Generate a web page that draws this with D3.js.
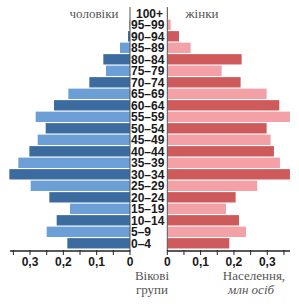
<!DOCTYPE html>
<html><head><meta charset="utf-8">
<script src="https://cdn.jsdelivr.net/npm/d3@7"></script>
<style>body{margin:0;background:#fff;}svg{display:block;}</style>
</head><body>
<script>
const ageGroups = ["0–4","5–9","10–14","15–19","20–24","25–29","30–34","35–39","40–44","45–49","50–54","55–59","60–64","65–69","70–74","75–79","80–84","85–89","90–94","95–99","100+"];
const male   = [0.188,0.250,0.220,0.180,0.242,0.298,0.362,0.335,0.302,0.277,0.253,0.283,0.228,0.185,0.122,0.072,0.080,0.030,0.006,0.002,0.000];
const female = [0.186,0.236,0.215,0.176,0.205,0.270,0.368,0.338,0.320,0.310,0.298,0.368,0.336,0.298,0.220,0.163,0.223,0.070,0.035,0.010,0.002];
const tickValues = [0,0.1,0.2,0.3];
const tickLabels = ["0","0,1","0,2","0,3"];
const minorTicks = [0,0.05,0.1,0.15,0.2,0.25,0.3,0.35];

const W=299,H=304;
const svg=d3.select("body").append("svg").attr("width",W).attr("height",H);
const maleZero=130, femZero=167.3, unit=333.3;
const xm=d3.scaleLinear().domain([0,0.35]).range([maleZero,maleZero-0.35*unit]);
const xf=d3.scaleLinear().domain([0,0.35]).range([femZero,femZero+0.35*unit]);
const y=d3.scaleBand().domain(ageGroups.slice().reverse()).range([7.55,249.05]).paddingInner(0.1).paddingOuter(0.05);
const cols={mDark:"#3c6c9f",mLight:"#6b9fd6",fDark:"#cf5a5b",fLight:"#f3a0a6"};

svg.append("g").selectAll("rect").data(ageGroups).join("rect")
 .attr("x",(d,i)=>xm(male[i])).attr("width",(d,i)=>xm(0)-xm(male[i]))
 .attr("y",d=>y(d)).attr("height",y.bandwidth())
 .attr("fill",(d,i)=>i%2===0?cols.mDark:cols.mLight);
svg.append("g").selectAll("rect").data(ageGroups).join("rect")
 .attr("x",xf(0)).attr("width",(d,i)=>xf(female[i])-xf(0))
 .attr("y",d=>y(d)).attr("height",y.bandwidth())
 .attr("fill",(d,i)=>i%2===0?cols.fDark:cols.fLight);

svg.append("line").attr("x1",maleZero).attr("x2",maleZero).attr("y1",7).attr("y2",251).attr("stroke","#555").attr("stroke-width",1);
svg.append("line").attr("x1",femZero).attr("x2",femZero).attr("y1",7).attr("y2",251).attr("stroke","#555").attr("stroke-width",1);

svg.append("g").selectAll("text").data(ageGroups).join("text")
 .attr("x",d=>d==="100+"?136:131).attr("y",d=>y(d)+y.bandwidth()/2).attr("dy","0.36em")
 .attr("font-family","Liberation Sans, Arial, sans-serif").attr("font-size",12).attr("font-weight","bold")
 .attr("fill","#1a1a1a").text(d=>d);

const axisY=251;
function drawAxis(scale,x1,x2){
  const g=svg.append("g");
  g.append("line").attr("x1",x1).attr("x2",x2).attr("y1",axisY).attr("y2",axisY).attr("stroke","#222").attr("stroke-width",1.6);
  g.selectAll("line.t").data(minorTicks).join("line").attr("class","t")
   .attr("x1",d=>scale(d)).attr("x2",d=>scale(d)).attr("y1",axisY-1).attr("y2",axisY+4).attr("stroke","#222").attr("stroke-width",1);
  g.selectAll("text").data(tickValues).join("text")
   .attr("x",d=>scale(d)).attr("y",266).attr("text-anchor","middle")
   .attr("font-family","Liberation Sans, Arial, sans-serif").attr("font-size",12).attr("font-weight","bold").attr("fill","#1a1a1a")
   .text((d,i)=>tickLabels[i]);
}
drawAxis(xm,10,maleZero);
drawAxis(xf,femZero,290);

const serif="Liberation Serif, Times New Roman, serif";
svg.append("text").attr("x",94).attr("y",18).attr("text-anchor","middle").attr("font-family",serif).attr("font-size",13).attr("fill","#555").text("чоловіки");
svg.append("text").attr("x",202).attr("y",18).attr("text-anchor","middle").attr("font-family",serif).attr("font-size",13).attr("fill","#555").text("жінки");
svg.append("text").attr("x",152).attr("y",280).attr("text-anchor","middle").attr("font-family",serif).attr("font-size",13).attr("fill","#555").text("Вікові");
svg.append("text").attr("x",152).attr("y",294).attr("text-anchor","middle").attr("font-family",serif).attr("font-size",13).attr("fill","#555").text("групи");
svg.append("text").attr("x",254).attr("y",280).attr("text-anchor","middle").attr("font-family",serif).attr("font-size",13).attr("fill","#555").text("Населення,");
svg.append("text").attr("x",251).attr("y",294).attr("text-anchor","middle").attr("font-family",serif).attr("font-size",13).attr("font-style","italic").attr("fill","#555").text("млн осіб");
</script>
</body></html>
